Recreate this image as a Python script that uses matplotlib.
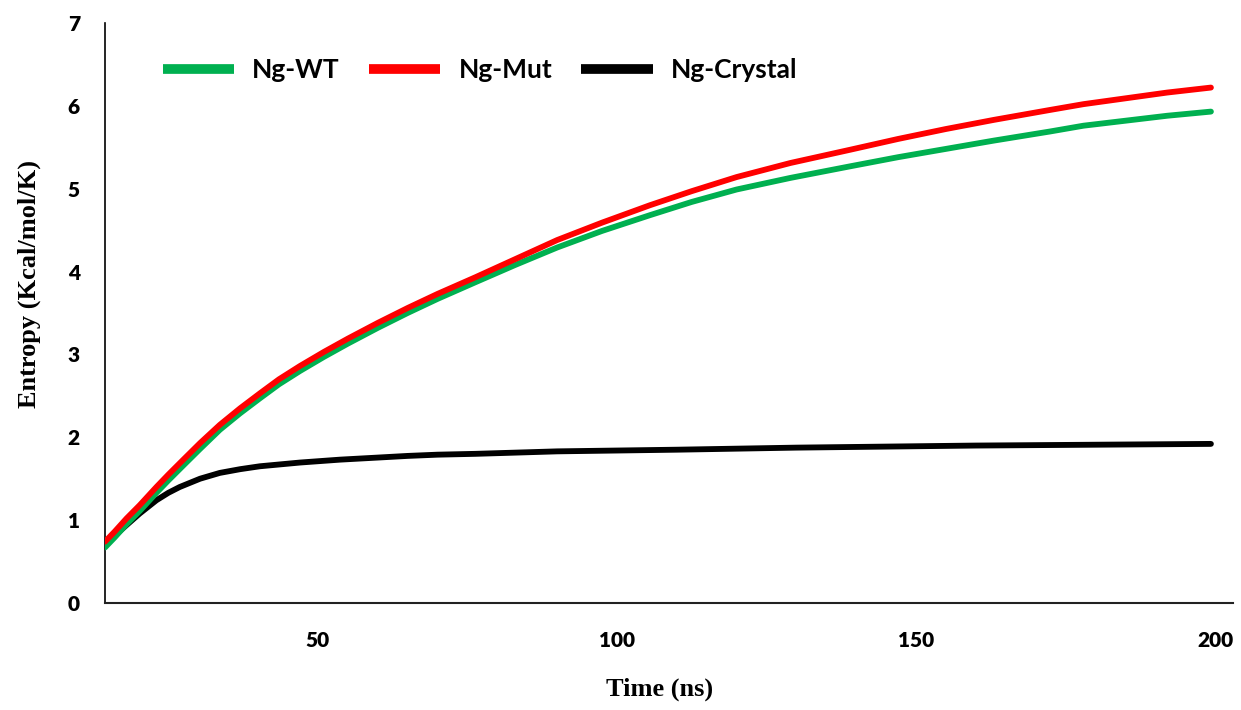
import numpy as np
import matplotlib
matplotlib.use("Agg")
from matplotlib import pyplot as plt

# entropy vs simulation time
time_ns = [14.4, 16, 18, 20.2, 23, 25, 27.5, 30.3, 33.6, 37, 40.3, 43.5, 47, 51, 55, 60, 65, 70,
           76.3, 83, 90, 97.5, 105.5, 112.5, 120, 129, 139, 147, 155, 163, 172.4, 178, 185, 192, 199.3]
wt = [0.67, 0.79, 0.95, 1.11, 1.33, 1.48, 1.66, 1.86, 2.09, 2.29, 2.47, 2.64, 2.80, 2.97, 3.13, 3.32, 3.50, 3.67,
      3.87, 4.08, 4.29, 4.49, 4.68, 4.84, 4.99, 5.13, 5.27, 5.38, 5.48, 5.58, 5.69, 5.76, 5.82, 5.88, 5.93]
mut = [0.74, 0.86, 1.02, 1.18, 1.40, 1.55, 1.73, 1.93, 2.15, 2.35, 2.53, 2.70, 2.86, 3.03, 3.19, 3.38, 3.56, 3.73,
       3.93, 4.15, 4.38, 4.59, 4.80, 4.97, 5.14, 5.31, 5.47, 5.60, 5.72, 5.83, 5.95, 6.02, 6.09, 6.16, 6.22]

time_crystal = [14.4, 16, 18, 20.2, 23, 25, 26.9, 30.3, 33.6, 37, 40.3, 47, 53.7, 60, 65, 70,
                76.3, 90, 110, 130, 160, 199.3]
crystal = [0.70, 0.81, 0.94, 1.08, 1.24, 1.33, 1.40, 1.50, 1.57, 1.615, 1.65, 1.695, 1.73, 1.755, 1.775, 1.79,
           1.80, 1.83, 1.85, 1.875, 1.90, 1.92]

xticks = [50, 100, 150, 200]
yticks = [0, 1, 2, 3, 4, 5, 6, 7]

fig = plt.figure(figsize=(12.41, 7.10), dpi=100)
ax = fig.add_axes([0.0846, 0.1507, 0.909, 0.817])

ax.plot(time_crystal, crystal, color='black', lw=4.2, label='Ng-Crystal', zorder=2, solid_capstyle='round')
ax.plot(time_ns, wt, color='#00B050', lw=4.2, label='Ng-WT', zorder=3, solid_capstyle='round')
ax.plot(time_ns, mut, color='#FF0000', lw=4.2, label='Ng-Mut', zorder=4, solid_capstyle='round')

ax.set_xlim(14.4, 203)
ax.set_ylim(0, 7)
ax.set_xticks(xticks)
ax.set_yticks(yticks)
ax.tick_params(length=0, labelsize=15)
ax.tick_params(axis='x', pad=20)
ax.tick_params(axis='y', pad=18)
for lab in ax.get_xticklabels() + ax.get_yticklabels():
    lab.set_fontfamily('Lato')
    lab.set_fontweight('heavy')

for s in ['top', 'right']:
    ax.spines[s].set_visible(False)
ax.spines['left'].set_linewidth(1.2)
ax.spines['bottom'].set_linewidth(1.5)
ax.spines['bottom'].set_color('#222222')

ax.set_xlabel('Time (ns)', fontfamily='Liberation Serif', fontweight='bold', fontsize=19)
ax.set_ylabel('Entropy (Kcal/mol/K)', fontfamily='Liberation Serif', fontweight='bold', fontsize=19)
ax.xaxis.set_label_coords(0.492, -0.128)
ax.yaxis.set_label_coords(-0.057, 0.55)

h, l = ax.get_legend_handles_labels()
order = [1, 2, 0]
leg = ax.legend([h[i] for i in order], [l[i] for i in order], ncol=3, frameon=False,
                loc='upper left', bbox_to_anchor=(0.03, 0.98),
                prop={'family': 'Lato', 'weight': 'bold', 'size': 19},
                handlelength=2.7, handletextpad=0.7, columnspacing=1.1)
for line in leg.get_lines():
    line.set_linewidth(7)
    line.set_solid_capstyle('butt')

fig.savefig('out.png', dpi=100)
